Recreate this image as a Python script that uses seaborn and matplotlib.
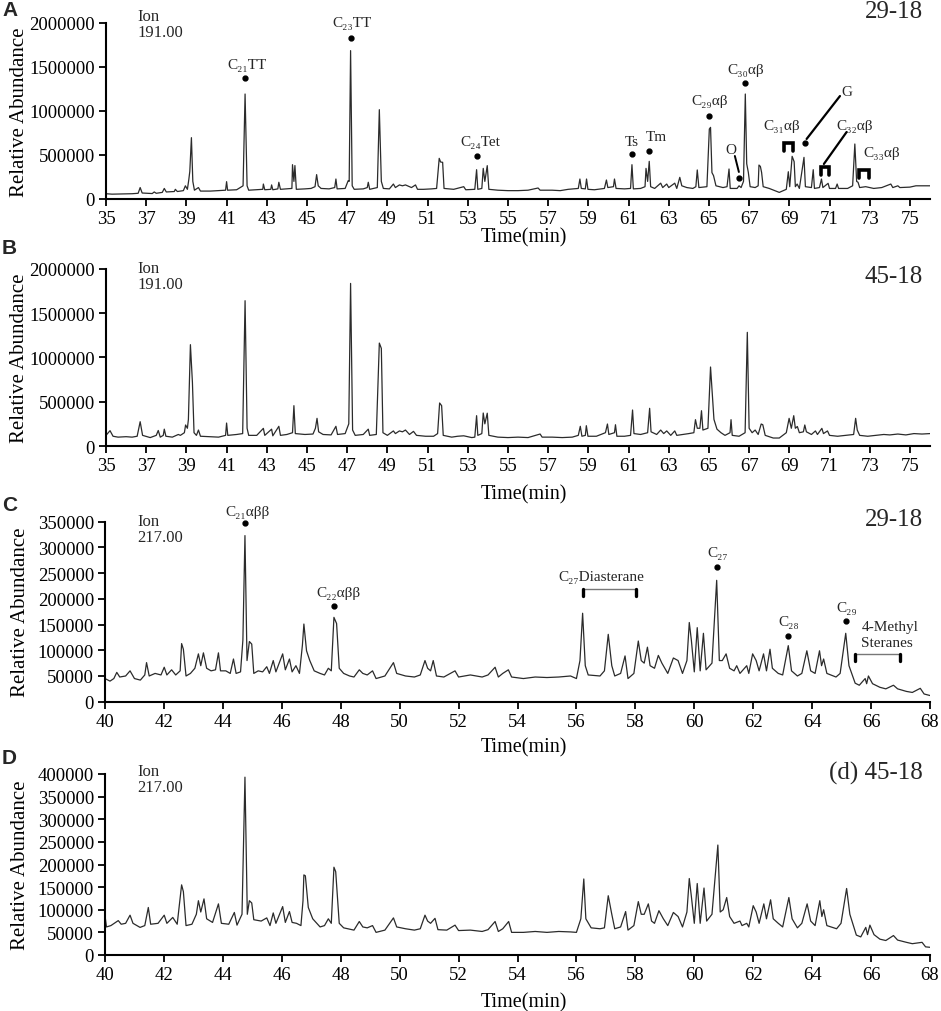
import matplotlib
matplotlib.use("Agg")
import matplotlib.pyplot as plt
import seaborn as sns
import pandas as pd
from matplotlib.ticker import FixedLocator, FuncFormatter

# ---------------- DATA ----------------
A_time = [35.0,35.3,35.8,36.3,36.6,36.7,36.8,37.3,37.4,37.5,37.8,37.9,38.0,38.4,38.45,38.55,38.85,38.95,39.05,39.12,39.17,39.25,39.32,39.4,39.6,39.7,40.2,40.6,40.95,41.0,41.05,41.5,41.82,41.92,42.02,42.1,42.5,42.8,42.83,42.9,43.2,43.24,43.3,43.55,43.6,43.68,44.0,44.25,44.28,44.35,44.4,44.47,44.9,45.2,45.4,45.48,45.56,45.7,46.1,46.38,46.44,46.5,46.9,47.05,47.1,47.17,47.25,47.35,47.8,48.0,48.05,48.12,48.5,48.6,48.7,48.8,49.1,49.3,49.4,49.6,49.75,49.9,50.2,50.4,50.5,50.8,51.2,51.45,51.58,51.65,51.75,51.82,52.3,52.8,52.9,53.35,53.44,53.5,53.7,53.77,53.85,53.97,54.05,54.5,55.0,55.5,56.0,56.5,56.6,57.2,57.6,58.0,58.5,58.58,58.65,58.85,58.91,58.98,59.3,59.8,59.9,59.97,60.25,60.3,60.38,60.8,61.1,61.17,61.24,61.6,61.82,61.87,61.95,62.03,62.1,62.3,62.6,62.7,62.9,63.0,63.3,63.4,63.55,63.65,63.9,64.2,64.35,64.42,64.5,64.9,65.02,65.08,65.15,65.23,65.35,65.7,65.9,66.0,66.06,66.4,66.5,66.6,66.72,66.81,66.88,66.96,67.05,67.3,67.45,67.49,67.56,67.62,67.7,68.0,68.5,68.85,68.95,69.02,69.14,69.24,69.3,69.39,69.5,69.73,69.8,70.1,70.19,70.25,70.5,70.6,70.67,70.93,71.0,71.3,71.38,71.45,71.9,72.15,72.26,72.35,72.42,72.5,72.8,73.2,73.6,74.05,74.15,74.4,74.5,75.0,75.3,76.0]
A_abund = [60000,55000,58000,60000,65000,130000,68000,62000,80000,65000,75000,120000,80000,85000,110000,85000,95000,150000,110000,220000,314000,697000,200000,100000,130000,90000,90000,95000,100000,197000,100000,105000,150000,1193000,150000,100000,105000,110000,170000,105000,110000,160000,105000,115000,190000,110000,115000,120000,390000,200000,380000,110000,115000,120000,140000,277000,150000,120000,115000,130000,227000,115000,120000,208000,200000,1686000,150000,110000,115000,130000,190000,110000,130000,1015000,200000,120000,115000,170000,130000,160000,150000,160000,130000,160000,110000,110000,115000,120000,462000,420000,417000,120000,110000,140000,105000,110000,333000,110000,120000,348000,200000,379000,110000,100000,95000,95000,100000,125000,100000,100000,95000,110000,120000,227000,120000,115000,227000,110000,105000,120000,216000,130000,140000,227000,120000,115000,120000,390000,115000,120000,140000,348000,200000,428000,140000,120000,180000,130000,170000,130000,180000,120000,246000,150000,130000,120000,140000,330000,130000,140000,795000,814000,300000,265000,150000,130000,140000,341000,120000,120000,150000,130000,200000,1193000,400000,303000,140000,130000,150000,386000,370000,303000,140000,120000,75000,110000,310000,140000,485000,424000,140000,170000,120000,473000,140000,130000,333000,120000,130000,227000,130000,178000,120000,120000,170000,120000,120000,150000,625000,200000,190000,130000,140000,120000,130000,170000,130000,150000,130000,135000,150000,150000]

B_time = [35.0,35.2,35.35,35.6,36.0,36.3,36.55,36.7,36.82,37.2,37.5,37.6,37.7,37.85,37.9,37.98,38.3,38.6,38.7,38.9,38.96,39.05,39.1,39.2,39.3,39.38,39.5,39.6,39.7,40.2,40.6,40.95,41.0,41.06,41.5,41.8,41.92,42.02,42.1,42.5,42.83,42.9,43.24,43.3,43.6,43.68,44.0,44.28,44.35,44.42,44.9,45.3,45.42,45.5,45.58,45.8,46.2,46.44,46.52,46.9,47.08,47.17,47.27,47.4,47.8,48.05,48.12,48.45,48.6,48.7,48.78,49.0,49.3,49.4,49.6,49.75,49.9,50.1,50.3,50.45,50.9,51.3,51.5,51.6,51.7,51.78,52.2,52.5,52.8,53.2,53.35,53.44,53.5,53.7,53.77,53.85,53.97,54.05,54.5,55.0,55.5,56.0,56.6,56.7,57.2,57.7,58.2,58.5,58.6,58.68,58.85,58.9,58.98,59.4,59.85,59.95,60.02,60.3,60.35,60.42,60.8,61.1,61.2,61.27,61.6,61.95,62.05,62.12,62.4,62.6,62.75,62.9,63.1,63.3,63.4,63.7,64.0,64.25,64.33,64.42,64.55,64.63,64.7,64.95,65.08,65.15,65.25,65.4,65.6,65.8,66.05,66.1,66.16,66.5,66.8,66.91,67.0,67.15,67.3,67.45,67.6,67.68,67.8,68.2,68.5,68.85,68.99,69.1,69.22,69.3,69.4,69.5,69.7,69.77,69.85,70.1,70.3,70.4,70.62,70.7,70.9,71.0,71.4,71.8,72.2,72.3,72.38,72.5,72.9,73.3,73.7,74.0,74.4,74.8,75.2,75.6,76.0]
B_abund = [120000,173000,110000,100000,105000,100000,110000,274000,120000,95000,120000,175000,100000,120000,190000,110000,100000,130000,120000,150000,237000,200000,300000,1143000,718000,150000,120000,180000,110000,105000,100000,120000,259000,120000,130000,140000,1639000,200000,120000,120000,199000,120000,190000,115000,222000,120000,130000,150000,455000,140000,130000,135000,200000,312000,160000,130000,125000,222000,130000,140000,250000,1834000,180000,120000,130000,190000,120000,130000,1161000,1101000,150000,120000,170000,140000,170000,160000,180000,130000,165000,120000,110000,110000,140000,485000,455000,120000,100000,110000,115000,95000,100000,342000,120000,140000,372000,250000,370000,120000,100000,95000,100000,95000,135000,100000,100000,95000,100000,120000,222000,110000,120000,229000,110000,110000,150000,248000,130000,150000,240000,110000,110000,120000,406000,140000,130000,150000,425000,160000,130000,180000,140000,170000,120000,170000,120000,130000,140000,150000,297000,200000,200000,398000,180000,200000,891000,643000,300000,190000,150000,120000,150000,297000,120000,110000,150000,1282000,200000,150000,180000,130000,248000,240000,120000,90000,90000,150000,312000,200000,342000,200000,220000,150000,160000,237000,160000,130000,170000,130000,199000,140000,170000,120000,110000,120000,130000,312000,180000,120000,110000,120000,130000,125000,135000,125000,140000,135000,140000]

C_time = [40.0,40.17,40.3,40.4,40.5,40.7,40.85,41.0,41.2,41.35,41.41,41.5,41.7,41.9,42.01,42.1,42.26,42.4,42.55,42.6,42.66,42.75,42.9,43.05,43.17,43.25,43.34,43.45,43.6,43.75,43.85,43.92,44.1,44.25,44.36,44.45,44.6,44.68,44.75,44.82,44.9,44.98,45.05,45.2,45.35,45.49,45.58,45.71,45.8,46.03,46.12,46.26,46.35,46.48,46.6,46.7,46.75,46.84,46.95,47.1,47.3,47.45,47.58,47.68,47.77,47.86,47.95,48.1,48.3,48.45,48.63,48.75,48.9,49.08,49.2,49.5,49.79,49.9,50.2,50.5,50.7,50.86,50.95,51.05,51.14,51.25,51.5,51.88,52.0,52.4,52.8,53.0,53.24,53.35,53.5,53.69,53.8,54.2,54.6,55.0,55.4,55.8,56.0,56.12,56.21,56.3,56.4,56.8,56.95,57.08,57.2,57.3,57.5,57.65,57.75,57.95,58.1,58.2,58.3,58.41,58.5,58.65,58.78,58.9,59.1,59.29,59.45,59.6,59.75,59.83,59.9,60.0,60.1,60.2,60.31,60.4,60.6,60.76,60.85,60.95,61.08,61.2,61.35,61.44,61.55,61.78,61.85,61.98,62.1,62.2,62.35,62.45,62.57,62.65,62.85,63.0,63.19,63.3,63.5,63.65,63.82,63.95,64.1,64.25,64.32,64.39,64.5,64.81,64.95,65.14,65.25,65.46,65.6,65.8,65.85,65.91,66.05,66.3,66.5,66.76,66.9,67.2,67.4,67.67,67.8,68.0]
C_abund = [45000,40000,45000,57000,48000,50000,60000,45000,42000,52000,76000,50000,55000,52000,67000,52000,62000,52000,60000,113000,102000,50000,55000,65000,93000,70000,95000,65000,60000,62000,95000,60000,60000,55000,83000,55000,58000,120000,323000,80000,117000,112000,55000,60000,58000,68000,55000,80000,58000,93000,62000,83000,58000,70000,55000,110000,151000,99000,80000,60000,55000,52000,65000,60000,164000,152000,65000,55000,50000,48000,62000,55000,52000,60000,45000,50000,76000,55000,50000,48000,52000,80000,65000,60000,80000,50000,48000,60000,48000,52000,48000,52000,67000,48000,55000,62000,48000,45000,48000,47000,48000,50000,45000,80000,172000,70000,52000,50000,60000,131000,70000,50000,55000,89000,45000,55000,118000,80000,75000,106000,70000,65000,90000,75000,55000,85000,80000,55000,80000,154000,120000,58000,144000,60000,133000,62000,75000,236000,80000,80000,93000,65000,60000,70000,55000,70000,55000,93000,80000,60000,93000,60000,102000,65000,55000,52000,109000,60000,50000,55000,99000,60000,55000,99000,70000,83000,55000,48000,55000,133000,70000,36000,32000,45000,35000,50000,35000,28000,25000,32000,25000,20000,18000,26000,15000,12000]

D_time = [40.0,40.05,40.2,40.45,40.55,40.7,40.85,40.95,41.19,41.35,41.47,41.55,41.8,42.01,42.1,42.3,42.45,42.6,42.66,42.75,42.95,43.1,43.17,43.25,43.36,43.45,43.65,43.85,43.95,44.2,44.39,44.48,44.65,44.75,44.83,44.9,44.98,45.05,45.3,45.49,45.6,45.71,45.8,46.03,46.12,46.26,46.35,46.5,46.65,46.72,46.75,46.8,46.9,47.05,47.3,47.45,47.58,47.68,47.77,47.83,47.95,48.1,48.3,48.45,48.63,48.75,48.9,49.08,49.2,49.5,49.79,49.9,50.2,50.5,50.7,50.86,50.95,51.05,51.2,51.3,51.6,51.88,52.0,52.4,52.8,53.0,53.24,53.35,53.5,53.7,53.8,54.2,54.6,55.0,55.4,55.8,56.0,56.15,56.25,56.32,56.5,56.8,56.95,57.08,57.2,57.3,57.5,57.67,57.75,57.95,58.1,58.2,58.3,58.44,58.55,58.65,58.8,58.95,59.1,59.29,59.45,59.6,59.75,59.83,59.9,60.0,60.1,60.2,60.33,60.42,60.6,60.8,60.88,60.98,61.1,61.2,61.35,61.55,61.62,61.78,61.85,62.0,62.1,62.2,62.36,62.45,62.59,62.68,62.85,63.0,63.21,63.32,63.5,63.65,63.83,63.95,64.1,64.26,64.33,64.39,64.5,64.83,64.98,65.17,65.28,65.5,65.65,65.82,65.88,65.96,66.1,66.3,66.5,66.76,66.9,67.2,67.4,67.73,67.85,68.0]
D_abund = [87000,62000,65000,76000,68000,70000,88000,70000,61000,65000,105000,68000,70000,88000,70000,83000,68000,155000,140000,65000,68000,90000,120000,95000,124000,80000,72000,113000,70000,68000,94000,66000,90000,393000,90000,120000,115000,78000,75000,82000,65000,93000,70000,107000,72000,96000,72000,70000,65000,120000,177000,175000,105000,80000,62000,65000,80000,70000,194000,184000,70000,60000,57000,55000,74000,62000,60000,65000,50000,55000,82000,62000,58000,55000,58000,88000,75000,70000,81000,56000,55000,66000,54000,55000,52000,56000,74000,52000,58000,74000,50000,50000,52000,50000,52000,51000,50000,80000,168000,80000,60000,58000,60000,131000,90000,58000,62000,96000,55000,65000,118000,90000,90000,113000,75000,70000,98000,80000,65000,94000,85000,62000,95000,169000,130000,70000,158000,70000,148000,75000,90000,243000,95000,100000,127000,85000,70000,75000,65000,70000,62000,109000,95000,70000,113000,80000,122000,80000,70000,62000,127000,80000,60000,70000,113000,75000,65000,120000,85000,100000,65000,58000,70000,147000,90000,44000,40000,61000,45000,66000,45000,35000,32000,43000,33000,28000,25000,28000,18000,17000]

AB_xticks = [35, 37, 39, 41, 43, 45, 47, 49, 51, 53, 55, 57, 59, 61, 63, 65, 67, 69, 71, 73, 75]
CD_xticks = [40, 42, 44, 46, 48, 50, 52, 54, 56, 58, 60, 62, 64, 66, 68]
AB_yticks = [0, 500000, 1000000, 1500000, 2000000]
C_yticks = [0, 50000, 100000, 150000, 200000, 250000, 300000, 350000]
D_yticks = [0, 50000, 100000, 150000, 200000, 250000, 300000, 350000, 400000]

panel_letters = ["A", "B", "C", "D"]
sample_labels = ["29-18", "45-18", "29-18", "(d) 45-18"]
ion_labels = ["191.00", "191.00", "217.00", "217.00"]

# ---------------- STYLE ----------------
sns.set_theme(style="ticks")
SERIF = ["Liberation Serif", "DejaVu Serif"]
plt.rcParams["font.family"] = SERIF
plt.rcParams["axes.linewidth"] = 1.5

W, H = 941, 1012
fig = plt.figure(figsize=(W / 100, H / 100), dpi=100)
fig.patch.set_facecolor("white")

def fx(x):
    return x / W

def fy(y):
    return 1 - y / H

# axes rectangles (pixel): left, right, y of zero, y of top
rects = [
    (106, 930, 200.0, 24.0),
    (106, 930, 447.0, 269.7),
    (105, 930, 702.7, 522.7),
    (105, 930, 956.0, 775.0),
]
xlims = [(35, 76), (35, 76), (40, 68), (40, 68)]
ylims = [(0, 2000000), (0, 2000000), (0, 350000), (0, 400000)]
xticks = [AB_xticks, AB_xticks, CD_xticks, CD_xticks]
yticks = [AB_yticks, AB_yticks, C_yticks, D_yticks]
datas = [(A_time, A_abund), (B_time, B_abund), (C_time, C_abund), (D_time, D_abund)]
xlabel_y = [238, 495, 748, 1003]
letter_y = [10, 248, 506, 759]
sample_y = [12, 277, 520, 773]
ion_y = [17, 269, 522, 772]

axes = []
for i in range(4):
    l, r, y0, y1 = rects[i]
    ax = fig.add_axes([fx(l), fy(y0), (r - l) / W, (y0 - y1) / H])
    axes.append(ax)
    t, v = datas[i]
    df = pd.DataFrame({"Time": t, "Abund": v})
    sns.lineplot(data=df, x="Time", y="Abund", ax=ax, color="#2b2b2b",
                 linewidth=0.9, estimator=None, sort=True)
    ax.set_xlim(*xlims[i])
    ax.set_ylim(*ylims[i])
    ax.xaxis.set_major_locator(FixedLocator(xticks[i]))
    ax.yaxis.set_major_locator(FixedLocator(yticks[i]))
    ax.yaxis.set_major_formatter(FuncFormatter(lambda val, pos: f"{int(round(val))}"))
    ax.xaxis.set_major_formatter(FuncFormatter(lambda val, pos: f"{int(round(val))}"))
    for s in ["top", "right"]:
        ax.spines[s].set_visible(False)
    for s in ["left", "bottom"]:
        ax.spines[s].set_color("black")
        ax.spines[s].set_linewidth(1.5)
    ax.tick_params(axis="both", direction="out", length=5, width=1.3,
                   color="black", labelsize=13.5, labelcolor="black", pad=3)
    ax.set_facecolor("white")
    ax.grid(False)
    ax.set_ylabel("Relative Abundance", fontsize=15, color="black")
    ax.yaxis.label.set_va("center")
    ax.yaxis.set_label_coords((20 - l) / (r - l), 0.5)
    ax.set_xlabel("Time(min)", fontsize=14.5, color="black")
    ax.xaxis.label.set_va("center")
    ax.xaxis.set_label_coords((524 - l) / (r - l), (y0 - xlabel_y[i]) / (y0 - y1))

    fig.text(fx(2), fy(letter_y[i]), panel_letters[i], fontsize=15, fontweight="bold",
             family=["Liberation Sans", "DejaVu Sans"], ha="left", va="center")
    fig.text(fx(923), fy(sample_y[i]), sample_labels[i], fontsize=18, ha="right", va="center")
    fig.text(fx(137), fy(ion_y[i]), "Ion", fontsize=12, ha="left", va="center")
    fig.text(fx(137), fy(ion_y[i] + 16), ion_labels[i], fontsize=12, ha="left", va="center")

FS = 11
DOT = dict(marker="o", markersize=3.5, color="black", linestyle="none", clip_on=False)

def lab(ax, t, v, s, **kw):
    ax.text(t, v, s, fontsize=FS, ha="center", va="center", clip_on=False, **kw)

# ---------- Panel A annotations ----------
ax = axes[0]
lab(ax, 42.0, 1534000, "C₂₁TT");  ax.plot([41.92], [1375000], **DOT)
lab(ax, 47.24, 2011000, "C₂₃TT"); ax.plot([47.17], [1830000], **DOT)
lab(ax, 53.6, 648000, "C₂₄Tet");  ax.plot([53.44], [489000], **DOT)
lab(ax, 61.15, 659000, "Ts");     ax.plot([61.17], [511000], **DOT)
lab(ax, 62.36, 705000, "Tm");     ax.plot([62.01], [545000], **DOT)
lab(ax, 65.05, 1114000, "C₂₉αβ"); ax.plot([65.02], [943000], **DOT)
lab(ax, 66.84, 1477000, "C₃₀αβ"); ax.plot([66.81], [1318000], **DOT)
lab(ax, 66.08, 568000, "O")
ax.plot([66.29, 66.49], [489000, 307000], color="black", lw=1.4, clip_on=False)
ax.plot([66.51], [239000], **DOT)
lab(ax, 68.6, 830000, "C₃₁αβ")
ax.plot([68.75, 68.75, 69.2, 69.2], [545000, 636000, 636000, 545000], color="black",
        lw=2.6, solid_joinstyle="miter", clip_on=False)
lab(ax, 71.85, 1216000, "G")
ax.plot([71.52, 69.86], [1170000, 682000], color="black", lw=1.6, clip_on=False)
ax.plot([69.78], [636000], **DOT)
lab(ax, 72.26, 830000, "C₃₂αβ")
ax.plot([71.85, 70.72], [761000, 398000], color="black", lw=1.6, clip_on=False)
ax.plot([70.56, 70.56, 70.99, 70.99], [273000, 364000, 364000, 273000], color="black",
        lw=2.6, solid_joinstyle="miter", clip_on=False)
lab(ax, 73.6, 534000, "C₃₃αβ")
ax.plot([72.48, 72.48, 72.97, 72.97], [239000, 330000, 330000, 239000], color="black",
        lw=2.6, solid_joinstyle="miter", clip_on=False)

# ---------- Panel C annotations ----------
ax = axes[2]
lab(ax, 44.85, 369000, "C₂₁αββ");  ax.plot([44.75], [347000], **DOT)
lab(ax, 47.91, 213000, "C₂₂αββ");  ax.plot([47.77], [186000], **DOT)
lab(ax, 56.86, 244000, "C₂₇Diasterane")
ax.plot([56.23, 58.02], [219000, 219000], color="#777777", lw=1.0)
ax.plot([56.23, 56.23], [219000, 205000], color="black", lw=2.4)
ax.plot([58.02, 58.02], [219000, 205000], color="black", lw=2.4)
lab(ax, 60.78, 291000, "C₂₇");  ax.plot([60.76], [262000], **DOT)
lab(ax, 63.2, 155000, "C₂₈");   ax.plot([63.19], [128000], **DOT)
lab(ax, 65.18, 184000, "C₂₉");  ax.plot([65.14], [156000], **DOT)
lab(ax, 66.65, 147000, "4-Methyl")
lab(ax, 66.55, 116000, "Steranes")
ax.plot([65.46, 66.99], [93000, 93000], color="#777777", lw=1.0)
ax.plot([65.46, 65.46], [93000, 79000], color="black", lw=2.4)
ax.plot([66.99, 66.99], [93000, 79000], color="black", lw=2.4)

fig.savefig("out.png", dpi=100, facecolor="white")
